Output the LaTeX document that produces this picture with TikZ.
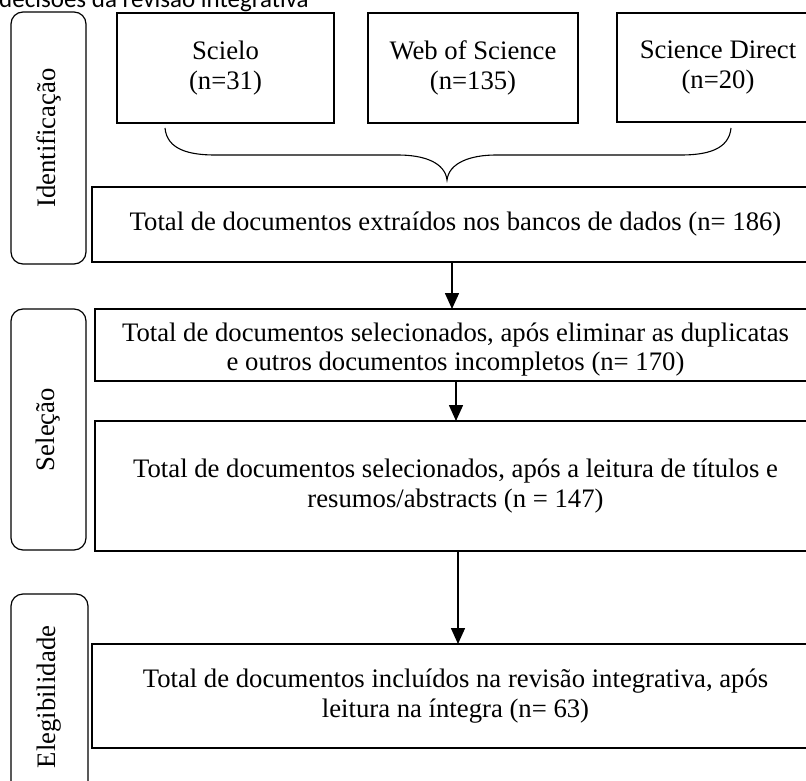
\documentclass[tikz,border=0pt]{standalone}
\usepackage{fontspec}
\setmainfont{Liberation Serif}
\newfontfamily\calfont{Carlito}
\usetikzlibrary{arrows.meta}
\begin{document}
\begin{tikzpicture}[x=1pt,y=-1pt,
  txt/.style={font=\fontsize{26.7}{29.5}\selectfont, align=center},
  boxnode/.style={draw, line width=1.6pt, inner sep=0pt, outer sep=0pt, txt},
  sidebox/.style={draw, line width=1.2pt, rounded corners=12pt, inner sep=0pt, outer sep=0pt, txt},
  arr/.style={line width=1.6pt, -{Triangle[width=14pt,length=16pt]}},
  bracestyle/.style={line width=1.1pt}]
\useasboundingbox (0,0) rectangle (806,781);
% title (cut off at the top, as in the reference)
\node[anchor=base west, inner sep=0pt, font=\calfont\fontsize{25}{25}\selectfont] (title) at (-1,8) {decisões da revisão integrativa};
% side labels
\node[sidebox, minimum width=75pt, minimum height=252pt] (s1) at (48.5,138) {\rotatebox{90}{Identificação}};
\node[sidebox, minimum width=75pt, minimum height=241pt] (s2) at (48.5,429.5) {\rotatebox{90}{Seleção}};
\node[sidebox, minimum width=77pt, minimum height=206pt] (s3) at (49.5,697) {\rotatebox{90}{Elegibilidade}};
% sources
\node[boxnode, minimum width=217pt, minimum height=110pt] (src1) at (225.5,68) {Scielo\\(n=31)};
\node[boxnode, minimum width=210pt, minimum height=110pt] (src2) at (473,68) {Web of Science\\(n=135)};
\node[boxnode, minimum width=202pt, minimum height=109pt] (src3) at (718,67.5) {Science Direct\\(n=20)};
% main boxes
\node[boxnode, minimum width=727pt, minimum height=75pt] (b1) at (455.5,224.5) {Total de documentos extraídos nos bancos de dados (n= 186)};
\node[boxnode, minimum width=721pt, minimum height=72pt] (b2) at (455.5,345) {\rule{0pt}{28pt}Total de documentos selecionados, após eliminar as duplicatas\\e outros documentos incompletos (n= 170)};
\node[boxnode, minimum width=721pt, minimum height=130pt] (b3) at (455.5,486) {Total de documentos selecionados, após a leitura de títulos e\\resumos/abstracts (n = 147)};
\node[boxnode, minimum width=727pt, minimum height=104pt] (b4) at (455.5,696) {Total de documentos incluídos na revisão integrativa, após\\leitura na íntegra (n= 63)};
% brace
\coordinate (brL) at (165,128);
\coordinate (brR) at (731,128);
\coordinate (brT) at (447,180);
\draw[bracestyle] (brL) .. controls (167,150) and (190,155) .. (215,155) -- (398,155)
  .. controls (425,155) and (445,163) .. (brT)
  .. controls (449,163) and (470,155) .. (496,155) -- (681,155)
  .. controls (706,155) and (729,150) .. (brR);
% arrows
\coordinate (a1) at (452,0);
\coordinate (a2) at (456,0);
\coordinate (a3) at (458,0);
\draw[arr] (b1.south -| a1) -- (b2.north -| a1);
\draw[arr] (b2.south -| a2) -- (b3.north -| a2);
\draw[arr] (b3.south -| a3) -- (b4.north -| a3);
\end{tikzpicture}
\end{document}
